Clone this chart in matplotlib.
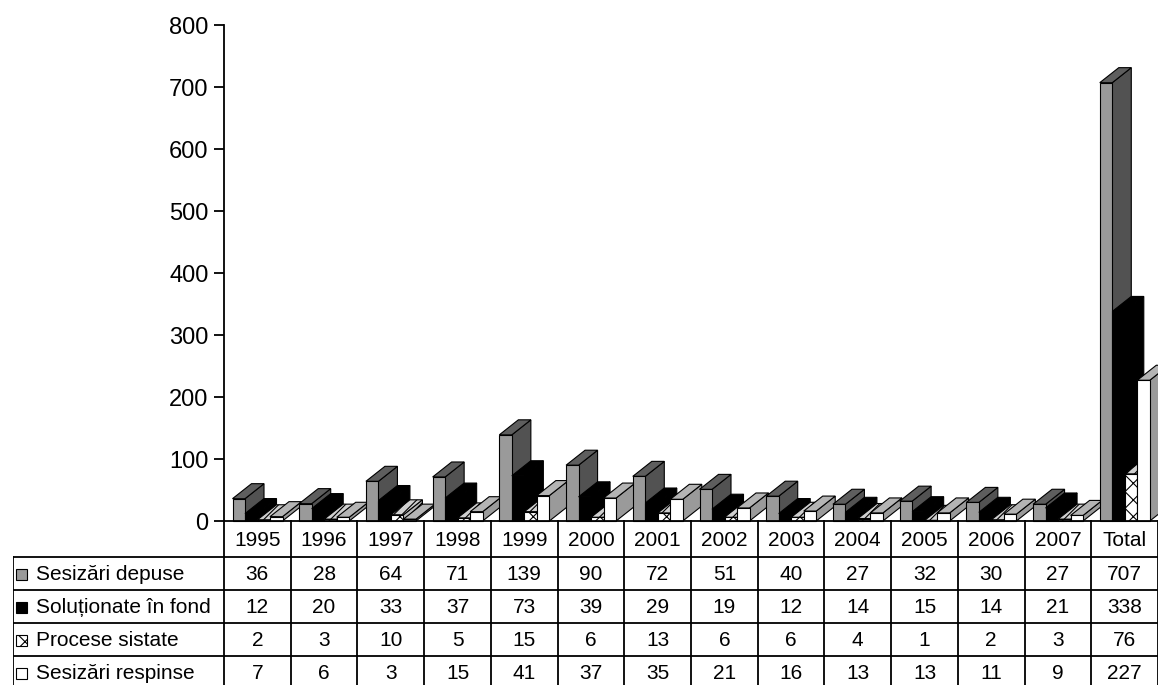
import matplotlib
matplotlib.use("Agg")
import matplotlib.pyplot as plt
from matplotlib.patches import Polygon, Rectangle

plt.rcParams['font.family'] = ['Liberation Sans', 'DejaVu Sans']
plt.rcParams['hatch.linewidth'] = 0.8

# data
years = ['1995', '1996', '1997', '1998', '1999', '2000', '2001', '2002',
         '2003', '2004', '2005', '2006', '2007', 'Total']
depuse = [36, 28, 64, 71, 139, 90, 72, 51, 40, 27, 32, 30, 27, 707]
solutionate = [12, 20, 33, 37, 73, 39, 29, 19, 12, 14, 15, 14, 21, 338]
sistate = [2, 3, 10, 5, 15, 6, 13, 6, 6, 4, 1, 2, 3, 76]
respinse = [7, 6, 3, 15, 41, 37, 35, 21, 16, 13, 13, 11, 9, 227]
row_labels = ['Sesizări depuse', 'Soluționate în fond', 'Procese sistate', 'Sesizări respinse']
series = [depuse, solutionate, sistate, respinse]

# face styles: (front, top, side, hatch on front, hatch on top/side)
styles = [
    ('#9a9a9a', '#5e5e5e', '#525252', None, None),
    ('#000000', '#000000', '#000000', None, None),
    ('#ffffff', '#d0d0d0', '#b8b8b8', 'xx', '////'),
    ('#ffffff', '#b4b4b4', '#9a9a9a', None, None),
]

W, H = 1158, 685
fig = plt.figure(figsize=(W / 100, H / 100), dpi=100)
ax = fig.add_axes([224 / W, (H - 521) / H, (W - 224) / W, (521 - 25) / H])
tab = fig.add_axes([13 / W, 0, (W - 13) / W, (H - 521) / H])

ax.set_xlim(0, len(years))
ax.set_ylim(0, 800)
ax.set_yticks(range(0, 801, 100))
ax.set_xticks([])
ax.tick_params(axis='y', labelsize=17, length=7, width=1.3, pad=4)
for s in ['top', 'right']:
    ax.spines[s].set_visible(False)
ax.spines['left'].set_linewidth(1.3)
ax.spines['bottom'].set_linewidth(1.3)

# pseudo 3d geometry (category units / value units)
px_x = 1 / 66.71          # one pixel in category units
px_y = 800 / (521 - 25)   # one pixel in value units
off, step, bw = 8.5 * px_x, 12.5 * px_x, 12.5 * px_x
dx, dy = 19 * px_x, 15 * px_y


def bar3d(x0, h, st):
    front, top, side, hf, hs = st
    x1 = x0 + bw
    faces = [
        ([(x1, 0), (x1 + dx, dy), (x1 + dx, h + dy), (x1, h)], side, hs),
        ([(x0, h), (x1, h), (x1 + dx, h + dy), (x0 + dx, h + dy)], top, hs),
        ([(x0, 0), (x1, 0), (x1, h), (x0, h)], front, hf),
    ]
    for pts, fc, hatch in faces:
        ax.add_patch(Polygon(pts, closed=True, facecolor=fc, edgecolor='black',
                             linewidth=0.8, hatch=hatch, clip_on=False))


for i in range(len(years)):
    for j, vals in enumerate(series):
        bar3d(i + off + j * step, vals[i], styles[j])

# data table
lab_w = 211 * px_x
hdr = 36 / 33
tab.set_xlim(-lab_w, len(years))
tab.set_ylim(4.97, 0)
tab.axis('off')
lw = 1.3
for k in range(len(years) + 1):
    tab.plot([k, k], [0, 6], color='black', lw=lw, clip_on=False)
tab.plot([-lab_w, -lab_w], [hdr, 6], color='black', lw=lw)
for r in range(4):
    tab.plot([-lab_w, len(years)], [hdr + r, hdr + r], color='black', lw=lw)

fs = 15
for i, y in enumerate(years):
    tab.text(i + 0.5, hdr / 2 + 0.05, y, ha='center', va='center', fontsize=fs)
for r, vals in enumerate(series):
    yc = hdr + r + 0.5 + 0.03
    for i, v in enumerate(vals):
        tab.text(i + 0.5, yc, str(v), ha='center', va='center', fontsize=fs)
    front, top, side, hf, hs = styles[r]
    tab.add_patch(Rectangle((-lab_w + 3 * px_x, yc - 0.17), 11 * px_x, 0.34,
                            facecolor=front, edgecolor='black', linewidth=0.8,
                            hatch=hf))
    tab.text(-lab_w + 23 * px_x, yc, row_labels[r], ha='left', va='center',
             fontsize=fs)

fig.savefig('out.png', dpi=100)
